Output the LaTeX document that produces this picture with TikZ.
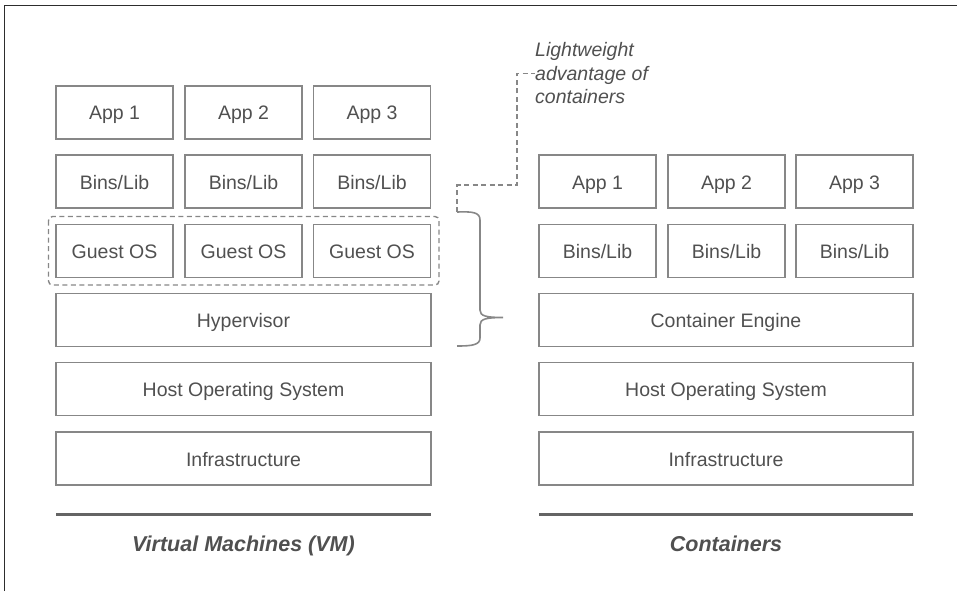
\documentclass[tikz,border=0pt]{standalone}
\usepackage{fontspec}
\setmainfont{Liberation Sans}
\definecolor{boxline}{RGB}{135,135,135}
\definecolor{txt}{RGB}{80,80,80}
\definecolor{rule}{RGB}{100,100,100}
\definecolor{frame}{RGB}{45,45,45}
\begin{document}
\begin{tikzpicture}[x=1pt,y=-1pt,
  layer/.style={draw=boxline, line width=1.6pt, rectangle, inner sep=0pt,
    minimum height=53pt, text=txt, text height=15pt, text depth=0pt,
    font=\fontsize{19.5}{23}\selectfont},
  small/.style={layer, minimum width=117pt},
  wide/.style={layer, minimum width=375pt},
  caption/.style={text=txt, text height=16pt, text depth=0pt, inner sep=0pt,
    font=\fontsize{21.5}{25}\selectfont\bfseries\itshape},
  note/.style={text=txt, font=\fontsize{19.5}{23.5}\selectfont\itshape, align=left, inner sep=0pt},
  hint/.style={draw=boxline, line width=1.4pt, dash pattern=on 5pt off 3.5pt},
  bracepath/.style={draw=boxline, line width=1.6pt},
  baseline rule/.style={draw=rule, line width=3pt}]
\useasboundingbox (0,0) rectangle (957,591);

% frame edges
\draw[frame, line width=1.6pt] (4.5,591) -- (4.5,5.5) -- (957,5.5);

% virtual machine stack
\node[small] (vapp1) at (114.5,112.5) {App 1};
\node[small] (vapp2) at (243.5,112.5) {App 2};
\node[small] (vapp3) at (372,112.5) {App 3};
\node[small] (vbin1) at (114.5,181.5) {Bins/Lib};
\node[small] (vbin2) at (243.5,181.5) {Bins/Lib};
\node[small] (vbin3) at (372,181.5) {Bins/Lib};
\node[small] (gos1) at (114.5,251) {Guest OS};
\node[small] (gos2) at (243.5,251) {Guest OS};
\node[small] (gos3) at (372,251) {Guest OS};
\node[wide] (hyper) at (243.5,320) {Hypervisor};
\node[wide] (vhost) at (243.5,389) {Host Operating System};
\node[wide] (vinfra) at (243.5,458.5) {Infrastructure};

% dashed group around the guest systems
\draw[hint, rounded corners=4pt] (48.5,216.5) rectangle (439,285);

% container stack
\node[small] (capp1) at (597.5,181.5) {App 1};
\node[small] (capp2) at (726.5,181.5) {App 2};
\node[small] (capp3) at (854.5,181.5) {App 3};
\node[small] (cbin1) at (597.5,251) {Bins/Lib};
\node[small] (cbin2) at (726.5,251) {Bins/Lib};
\node[small] (cbin3) at (854.5,251) {Bins/Lib};
\node[wide, minimum width=374pt] (engine) at (726,320) {Container Engine};
\node[wide, minimum width=374pt] (chost) at (726,389) {Host Operating System};
\node[wide, minimum width=374pt] (cinfra) at (726,458.5) {Infrastructure};

% brace spanning guest OS and hypervisor
\coordinate (btop) at (457,212);
\coordinate (bbot) at (457,346);
\coordinate (btip) at (503,317.5);
\draw[bracepath] (btop) .. controls (472,211.5) and (480,212) .. (480,220)
  -- (480,310) .. controls (480,316) and (486,317.5) .. (btip)
  .. controls (486,317.5) and (480,319) .. (480,325)
  -- (480,338) .. controls (480,345) and (472,346) .. (bbot);

% annotation
\node[note, anchor=west] (lw) at (535,73.5) {Lightweight\\advantage of\\containers};
\coordinate (k1) at (457,185);
\coordinate (k2) at (517,185);
\coordinate (k3) at (517,73.5);
\draw[hint] (btop) -- (k1) -- (k2) -- (k3) -- (lw.west);

% base rules and captions
\coordinate (r1a) at (56,514.5);
\coordinate (r1b) at (431,514.5);
\coordinate (r2a) at (539,514.5);
\coordinate (r2b) at (913,514.5);
\draw[baseline rule] (r1a) -- (r1b);
\draw[baseline rule] (r2a) -- (r2b);
\node[caption] (vmcap) at (243.5,543) {Virtual Machines (VM)};
\node[caption] (ctcap) at (726,543) {Containers};
\end{tikzpicture}
\end{document}
